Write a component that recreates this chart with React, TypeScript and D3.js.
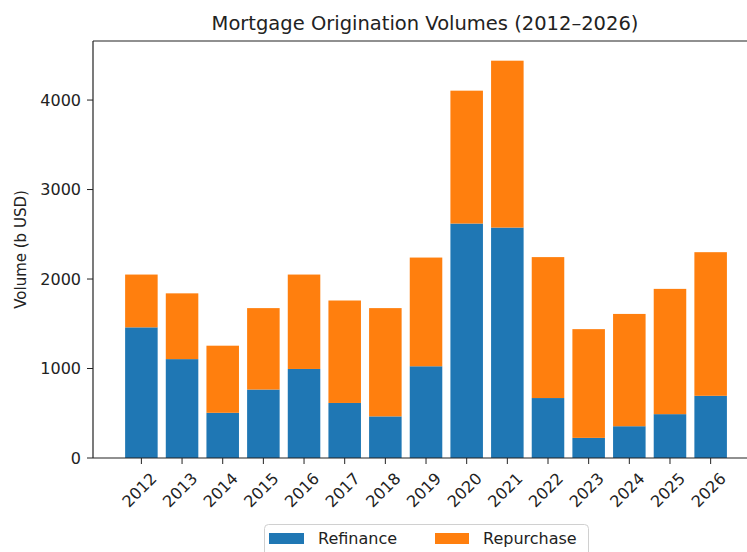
import React from "react";
import { scaleLinear } from "d3";

// chart data (billions USD)
const years = ["2012", "2013", "2014", "2015", "2016", "2017", "2018", "2019", "2020", "2021", "2022", "2023", "2024", "2025", "2026"];
const refinance = [1460, 1105, 505, 765, 995, 615, 465, 1025, 2620, 2575, 670, 225, 355, 490, 695];
const repurchase = [590, 735, 750, 910, 1055, 1145, 1210, 1215, 1485, 1865, 1575, 1215, 1255, 1400, 1605];
const yTicks = [0, 1000, 2000, 3000, 4000];

const W = 747, H = 552;
const margin = { top: 41, left: 93, right: 757, bottom: 458 };
const font = "'DejaVu Sans', sans-serif";
const blue = "#1f77b4";
const orange = "#ff7f0e";

const App = () => {
  const x = scaleLinear().domain([-1.19, 15.14]).range([margin.left, margin.right]);
  const y = scaleLinear().domain([0, 4660]).range([margin.bottom, margin.top]);
  const bw = x(0.4) - x(-0.4);

  return (
    <svg width={W} height={H} style={{ position: "absolute", left: 0, top: 0, background: "#fff" }}>
      <text x={(margin.left + margin.right) / 2} y={30} textAnchor="middle" fontFamily={font} fontSize={19.5} fill="#222">
        Mortgage Origination Volumes (2012–2026)
      </text>

      {/* bars */}
      {years.map((yr, i) => (
        <g key={yr}>
          <rect x={x(i) - bw / 2} y={y(refinance[i])} width={bw} height={y(0) - y(refinance[i])} fill={blue} />
          <rect
            x={x(i) - bw / 2}
            y={y(refinance[i] + repurchase[i])}
            width={bw}
            height={y(refinance[i]) - y(refinance[i] + repurchase[i])}
            fill={orange}
          />
        </g>
      ))}

      {/* spines (right one falls outside the crop) */}
      <g stroke="#222" strokeWidth={1.2} fill="none">
        <line x1={margin.left} x2={margin.left} y1={margin.top} y2={margin.bottom} />
        <line x1={margin.left} x2={W} y1={margin.bottom} y2={margin.bottom} />
        <line x1={margin.left} x2={W} y1={margin.top} y2={margin.top} />
      </g>

      {/* y axis */}
      {yTicks.map((t) => (
        <g key={t}>
          <line x1={margin.left - 6} x2={margin.left} y1={y(t)} y2={y(t)} stroke="#222" strokeWidth={1} />
          <text x={margin.left - 12} y={y(t)} textAnchor="end" dominantBaseline="central" fontFamily={font} fontSize={16} fill="#222">
            {t}
          </text>
        </g>
      ))}
      <text
        transform={`translate(21, ${(margin.top + margin.bottom) / 2}) rotate(-90)`}
        textAnchor="middle"
        dominantBaseline="central"
        fontFamily={font}
        fontSize={15}
        fill="#222"
      >
        Volume (b USD)
      </text>

      {/* x axis */}
      {years.map((yr, i) => (
        <g key={yr}>
          <line x1={x(i)} x2={x(i)} y1={margin.bottom} y2={margin.bottom + 6} stroke="#222" strokeWidth={1} />
          <text
            transform={`translate(${x(i) - 2}, ${margin.bottom + 32}) rotate(-45)`}
            textAnchor="middle"
            dominantBaseline="central"
            fontFamily={font}
            fontSize={16}
            fill="#222"
          >
            {yr}
          </text>
        </g>
      ))}

      {/* legend */}
      <g>
        <rect x={264.5} y={524.5} width={324} height={40} rx={4} fill="#fff" stroke="#d0d0d0" strokeWidth={1} />
        <rect x={269} y={533} width={35} height={11} fill={blue} />
        <text x={318} y={538.5} dominantBaseline="central" fontFamily={font} fontSize={16} fill="#222">
          Refinance
        </text>
        <rect x={435} y={533} width={34} height={11} fill={orange} />
        <text x={483} y={538.5} dominantBaseline="central" fontFamily={font} fontSize={16} fill="#222">
          Repurchase
        </text>
      </g>
    </svg>
  );
};

export default App;
